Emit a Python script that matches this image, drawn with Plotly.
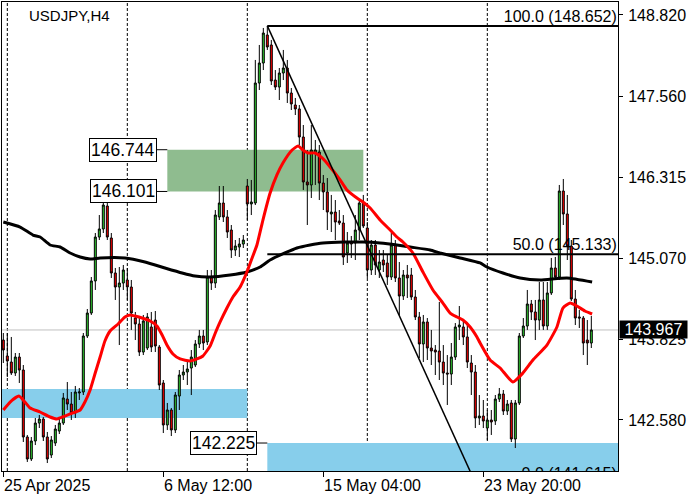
import plotly.graph_objects as go

FONT = "Liberation Sans, Arial, sans-serif"

# ---------------- data ----------------
bars = list(range(148))  # H4 bar index, bar 0 = 25 Apr 2025 00:00

opens = [143.812, 143.566, 143.473, 143.304, 143.550, 143.350, 142.318, 141.979, 142.256, 142.533,
         142.595, 142.318, 142.040, 142.225, 142.410, 142.533, 142.903, 142.826, 142.688, 142.996,
         143.011, 143.874, 144.228, 144.722, 145.399, 145.523, 145.877, 145.384, 144.845, 144.629,
         144.690, 144.737, 144.629, 144.151, 144.059, 143.627, 143.689, 144.013, 144.120, 143.704,
         143.150, 142.503, 142.734, 142.426, 142.949, 143.273, 143.319, 143.381, 143.427, 143.751,
         143.874, 143.782, 144.783, 144.690, 145.708, 145.923, 145.708, 145.507, 145.199, 145.245,
         145.291, 146.185, 145.908, 145.923, 147.772, 148.080, 148.512, 148.358, 147.818, 147.710,
         147.926, 148.003, 147.618, 147.433, 147.372, 146.940, 146.247, 146.201, 146.694, 146.709,
         146.231, 146.093, 145.754, 145.784, 145.646, 145.615, 145.153, 145.322, 145.307, 145.507,
         145.923, 145.538, 144.891, 145.276, 144.891, 145.045, 144.999, 144.783, 145.276, 144.768,
         144.490, 144.814, 144.814, 144.475, 144.167, 143.751, 144.090, 143.689, 143.658, 143.643,
         143.473, 143.304, 143.288, 143.550, 144.013, 144.013, 143.859, 143.458, 143.319, 142.611,
         142.641, 142.456, 142.580, 142.564, 142.903, 142.980, 142.718, 142.842, 142.287, 142.842,
         143.874, 144.028, 144.367, 144.244, 144.120, 144.429, 144.028, 144.537, 144.922, 144.783,
         146.108, 145.754, 145.261, 144.444, 144.167, 144.151, 143.812, 143.766]

closes = [143.658, 143.489, 143.304, 143.550, 143.350, 142.318, 141.979, 142.256, 142.533, 142.595,
          142.318, 141.979, 142.272, 142.441, 142.533, 142.919, 142.826, 142.688, 143.011, 143.011,
          143.874, 144.228, 144.722, 145.399, 145.523, 145.892, 145.399, 144.845, 144.629, 144.690,
          144.891, 144.629, 144.228, 144.059, 143.627, 144.105, 144.167, 143.704, 143.720, 143.119,
          142.503, 142.734, 142.426, 142.965, 143.273, 143.319, 143.366, 143.550, 143.751, 143.874,
          143.766, 144.783, 144.690, 145.738, 145.923, 145.708, 145.476, 145.199, 145.261, 145.291,
          145.353, 145.908, 145.939, 147.772, 148.080, 148.542, 148.327, 147.803, 147.710, 147.926,
          148.003, 147.618, 147.449, 147.372, 146.940, 146.247, 146.201, 146.740, 146.740, 146.231,
          146.093, 145.784, 145.784, 145.630, 145.615, 145.091, 145.307, 145.291, 145.507, 145.923,
          145.569, 144.891, 145.276, 144.968, 145.014, 144.968, 144.783, 145.276, 144.768, 144.490,
          144.814, 144.768, 144.475, 144.167, 143.751, 144.090, 143.689, 143.643, 143.627, 143.473,
          143.304, 143.288, 143.550, 144.013, 144.043, 143.859, 143.473, 143.319, 142.611, 142.641,
          142.564, 142.580, 142.549, 142.903, 142.980, 142.718, 142.826, 142.287, 142.842, 143.874,
          144.028, 144.367, 144.244, 144.120, 144.429, 144.028, 144.537, 144.922, 144.783, 146.108,
          145.754, 145.261, 144.444, 144.151, 144.151, 143.766, 143.766, 143.967]

highs = [143.920, 143.920, 143.859, 143.612, 143.612, 143.427, 142.349, 142.318, 142.611, 142.657,
         142.626, 142.395, 142.333, 142.503, 142.611, 142.996, 143.165, 143.011, 143.104, 143.073,
         143.920, 144.290, 144.783, 145.461, 145.738, 146.016, 145.923, 145.461, 144.922, 144.937,
         144.968, 144.922, 144.737, 144.244, 144.182, 144.198, 144.228, 144.244, 144.259, 143.735,
         143.196, 142.842, 142.765, 143.011, 143.350, 143.427, 143.504, 143.658, 143.812, 143.967,
         143.967, 144.891, 144.891, 145.815, 146.185, 146.185, 145.815, 145.584, 145.353, 145.384,
         145.430, 146.293, 146.278, 148.127, 148.358, 148.620, 148.652, 148.435, 147.972, 148.003,
         148.281, 148.127, 147.695, 147.541, 147.433, 147.125, 146.740, 147.125, 146.894, 146.817,
         146.355, 146.308, 146.047, 145.969, 145.815, 145.738, 145.476, 145.415, 145.738, 145.969,
         146.047, 145.630, 145.353, 145.353, 145.199, 145.199, 145.122, 145.461, 145.353, 145.014,
         144.891, 144.968, 144.922, 144.583, 144.244, 144.198, 144.151, 143.967, 143.735, 144.398,
         143.735, 143.581, 143.766, 144.074, 144.336, 144.120, 144.043, 143.581, 143.427, 142.965,
         142.888, 142.734, 142.734, 142.965, 143.073, 143.042, 142.888, 142.888, 142.888, 143.920,
         144.151, 144.583, 144.429, 144.429, 144.706, 144.706, 144.706, 145.076, 145.091, 146.201,
         146.293, 146.047, 145.353, 144.583, 144.275, 144.182, 144.120, 144.182]

lows = [143.458, 143.242, 143.273, 143.258, 143.150, 142.241, 141.933, 141.948, 142.194, 142.456,
        142.256, 141.917, 141.994, 142.179, 142.364, 142.503, 142.734, 142.580, 142.611, 142.888,
        142.965, 143.843, 144.198, 144.583, 145.353, 145.461, 145.353, 144.768, 144.429, 143.735,
        144.583, 144.429, 143.967, 143.812, 143.566, 143.581, 143.658, 143.627, 143.627, 143.042,
        142.379, 142.426, 142.333, 142.379, 142.734, 143.196, 143.119, 142.965, 143.396, 143.689,
        143.658, 143.735, 144.583, 144.614, 145.661, 145.630, 145.384, 145.076, 145.107, 145.091,
        145.230, 145.661, 145.738, 145.892, 147.664, 147.972, 148.281, 147.741, 147.664, 147.510,
        147.818, 147.464, 147.356, 147.279, 146.817, 146.124, 145.584, 146.000, 146.201, 145.969,
        145.815, 145.507, 145.476, 145.353, 145.584, 144.968, 144.999, 145.076, 145.045, 145.353,
        145.538, 144.768, 144.814, 144.814, 144.768, 144.860, 144.660, 144.737, 144.706, 144.198,
        144.429, 144.459, 144.429, 144.120, 143.535, 143.473, 143.504, 143.427, 143.273, 143.196,
        143.119, 142.811, 143.119, 143.504, 143.812, 143.735, 143.381, 142.965, 142.456, 142.503,
        142.456, 142.272, 142.349, 142.503, 142.857, 142.657, 142.657, 142.241, 142.148, 142.811,
        143.843, 143.967, 144.120, 143.812, 143.967, 143.967, 143.967, 144.506, 144.737, 144.737,
        145.584, 145.045, 144.413, 144.043, 143.997, 143.581, 143.427, 143.689]

# fast moving average (red), read at bar positions
red_bars = [0, 1.7, 3.9, 5.4, 6.7, 9.2, 11.7, 13.4, 15.4, 17.4, 19.2, 20.4, 21.7, 22.9, 24.2,
            25.4, 26.7, 28.7, 30.4, 31.7, 32.9, 34.7, 36.7, 38.4, 39.7, 40.9, 42.4, 44.2, 46.7,
            48.4, 49.9, 51.7, 52.9, 54.2, 55.9, 57.4, 59.2, 60.9, 62.2, 63.4, 64.9, 66.7, 68.4,
            69.9, 72.2, 73.7, 74.9, 76.2, 77.9, 79.7, 81.7, 84.2, 85.9, 88.4, 89.9, 91.7, 94.2,
            96.7, 98.4, 99.9, 102.4, 104.9, 107.4, 109.9, 111.7, 113.4, 114.9, 116.7, 118.4,
            119.2, 121.7, 124.2, 127.4, 129.9, 132.4, 135.9, 138.4, 139.9, 141.7, 143.4, 145.4, 147.2]
red_vals = [142.734, 142.857, 142.949, 142.857, 142.765, 142.703, 142.626, 142.595, 142.641,
            142.688, 142.734, 142.857, 143.042, 143.288, 143.550, 143.797, 143.951, 144.059,
            144.167, 144.198, 144.182, 144.151, 144.105, 144.028, 143.889, 143.735, 143.597,
            143.520, 143.489, 143.520, 143.566, 143.720, 143.905, 144.090, 144.305, 144.475,
            144.629, 144.860, 145.076, 145.276, 145.661, 146.077, 146.355, 146.540, 146.740,
            146.801, 146.740, 146.694, 146.694, 146.617, 146.478, 146.278, 146.124, 146.000,
            145.939, 145.846, 145.661, 145.507, 145.399, 145.322, 145.153, 144.860, 144.583,
            144.382, 144.228, 144.167, 144.120, 144.013, 143.859, 143.766, 143.504, 143.381,
            143.165, 143.304, 143.504, 143.735, 144.013, 144.305, 144.382, 144.336, 144.259, 144.213]

# slow moving average (black)
black_bars = [0, 4.2, 7.4, 9.2, 11.7, 14.2, 16.7, 19.2, 21.7, 24.2, 30.4, 35.4, 40.4, 44.7,
              47.9, 51.7, 56.7, 60.9, 64.2, 66.7, 70.4, 73.4, 76.7, 79.9, 85.4, 89.9, 94.2,
              98.4, 101.7, 106.7, 109.2, 114.2, 119.2, 120.9, 124.9, 129.2, 134.2, 140.9, 147.2]
black_vals = [145.630, 145.553, 145.430, 145.399, 145.276, 145.245, 145.153, 145.091, 145.060,
              145.076, 145.076, 145.014, 144.922, 144.845, 144.798, 144.783, 144.814, 144.860,
              144.937, 145.045, 145.153, 145.230, 145.276, 145.307, 145.322, 145.322, 145.307,
              145.276, 145.245, 145.199, 145.153, 145.076, 144.999, 144.937, 144.845, 144.768,
              144.737, 144.768, 144.706]

# time axis labels
tick_bars = [0, 40, 80, 120]
tick_labels = ["25 Apr 2025", "6 May 12:00", "15 May 04:00", "23 May 20:00"]
grid_bars = [1, 31, 61, 91, 121]

# price axis labels
price_ticks = [148.820, 147.560, 146.315, 145.070, 143.825, 142.580]
last_price = 143.967

# zones (rectangles)
zone_x0 = [41, -1, 66]
zone_x1 = [90, 61, 170]
zone_top = [146.744, 143.057, 142.225]
zone_bottom = [146.101, 142.611, 141.000]
zone_colors = ["#8fbc8f", "#87ceeb", "#87ceeb"]

# price labels attached to zones
label_prices = [146.744, 146.101, 142.225]
label_right_bar = [38.4, 38.4, 63.4]
label_target_bar = [41, 41, 66]

# Fibonacci retracement
fib_bars = [66, 118]
fib_prices = [148.652, 141.615]
fib_levels = [100.0, 50.0, 0.0]
fib_level_prices = [148.652, 145.133, 141.615]

X_RANGE = [-0.33, 153.67]
Y_RANGE = [141.794, 149.020]

# ---------------- figure ----------------
fig = go.Figure()

shapes = []
for x0, x1, yt, yb, c in zip(zone_x0, zone_x1, zone_top, zone_bottom, zone_colors):
    shapes.append(dict(type="rect", xref="x", yref="y", x0=x0, x1=x1, y0=yb, y1=yt,
                       fillcolor=c, line=dict(width=0), layer="below"))
for gb in grid_bars:
    shapes.append(dict(type="line", xref="x", yref="paper", x0=gb, x1=gb, y0=0, y1=1,
                       line=dict(color="black", width=1, dash="3px,2px"), layer="below"))
shapes.append(dict(type="line", xref="paper", yref="y", x0=0, x1=1, y0=last_price, y1=last_price,
                   line=dict(color="#c0c0c0", width=1), layer="below"))
for p, xr, xt in zip(label_prices, label_right_bar, label_target_bar):
    shapes.append(dict(type="line", xref="x", yref="y", x0=xr, x1=xt, y0=p, y1=p,
                       line=dict(color="black", width=1)))

fig.add_trace(go.Candlestick(
    x=bars, open=opens, high=highs, low=lows, close=closes,
    increasing=dict(line=dict(color="black", width=1), fillcolor="#32cd32"),
    decreasing=dict(line=dict(color="black", width=1), fillcolor="#ff0000"),
    whiskerwidth=0, showlegend=False, hoverinfo="skip"))

fig.add_trace(go.Scatter(x=black_bars, y=black_vals, mode="lines",
                         line=dict(color="black", width=3, shape="spline", smoothing=0.5),
                         showlegend=False, hoverinfo="skip"))
fig.add_trace(go.Scatter(x=red_bars, y=red_vals, mode="lines",
                         line=dict(color="#ff0000", width=3, shape="spline", smoothing=0.5),
                         showlegend=False, hoverinfo="skip"))

# fibonacci diagonal and levels
fig.add_trace(go.Scatter(x=fib_bars, y=fib_prices, mode="lines",
                         line=dict(color="black", width=1.5), showlegend=False, hoverinfo="skip"))
for lp in fib_level_prices:
    fig.add_trace(go.Scatter(x=[fib_bars[0], X_RANGE[1] + 10], y=[lp, lp], mode="lines",
                             line=dict(color="black", width=2), showlegend=False, hoverinfo="skip"))
fig.add_trace(go.Scatter(
    x=[X_RANGE[1] - 0.3] * len(fib_levels), y=fib_level_prices, mode="text",
    text=[f"{lv:.1f} ({p:.3f})" for lv, p in zip(fib_levels, fib_level_prices)],
    textposition="top left", cliponaxis=True,
    textfont=dict(family=FONT, size=16, color="black"),
    showlegend=False, hoverinfo="skip"))

annotations = []
annotations.append(dict(text="USDJPY,H4", xref="paper", yref="paper", x=0.04, y=0.972,
                        xanchor="left", yanchor="middle", showarrow=False,
                        font=dict(family=FONT, size=15, color="black")))
for tb, tl in zip(tick_bars, tick_labels):
    annotations.append(dict(text=tl, xref="x", yref="paper", x=tb, y=0, xanchor="left",
                            yanchor="top", yshift=-4, xshift=-1, showarrow=False,
                            font=dict(family=FONT, size=16, color="black")))
for p, xr in zip(label_prices, label_right_bar):
    annotations.append(dict(text=f"{p:.3f}", xref="x", yref="y", x=xr, y=p, xanchor="right",
                            yanchor="middle", showarrow=False, bgcolor="white",
                            bordercolor="black", borderwidth=1, borderpad=1,
                            font=dict(family=FONT, size=17.5, color="black")))
annotations.append(dict(text="\u00a0" + f"{last_price:.3f}" + "\u00a0", xref="paper", yref="y",
                        x=1, y=last_price, xanchor="left", yanchor="middle", xshift=1,
                        showarrow=False, bgcolor="black", borderpad=0,
                        font=dict(family=FONT, size=16, color="white")))

fig.update_layout(
    width=700, height=500,
    margin=dict(l=2, r=82, t=2, b=29, autoexpand=False),
    paper_bgcolor="white", plot_bgcolor="white",
    shapes=shapes, annotations=annotations,
    showlegend=False, boxgap=0.3,
    xaxis=dict(range=X_RANGE, showgrid=False, zeroline=False, showline=True, mirror=True,
               linecolor="black", linewidth=1, tickvals=tick_bars, ticktext=[""] * len(tick_bars),
               ticks="outside", ticklen=5, tickcolor="black", rangeslider=dict(visible=False),
               fixedrange=True),
    yaxis=dict(range=Y_RANGE, side="right", showgrid=False, zeroline=False, showline=True,
               mirror=True, linecolor="black", linewidth=1, tickvals=price_ticks,
               ticktext=[f"{v:.3f}" for v in price_ticks], ticks="outside", ticklen=4,
               ticklabelstandoff=2,
               tickcolor="black", tickfont=dict(family=FONT, size=16, color="black"),
               fixedrange=True),
)

fig.write_html("out.html", config={"displayModeBar": False},
               post_script=["document.body.style.margin='0';"])
